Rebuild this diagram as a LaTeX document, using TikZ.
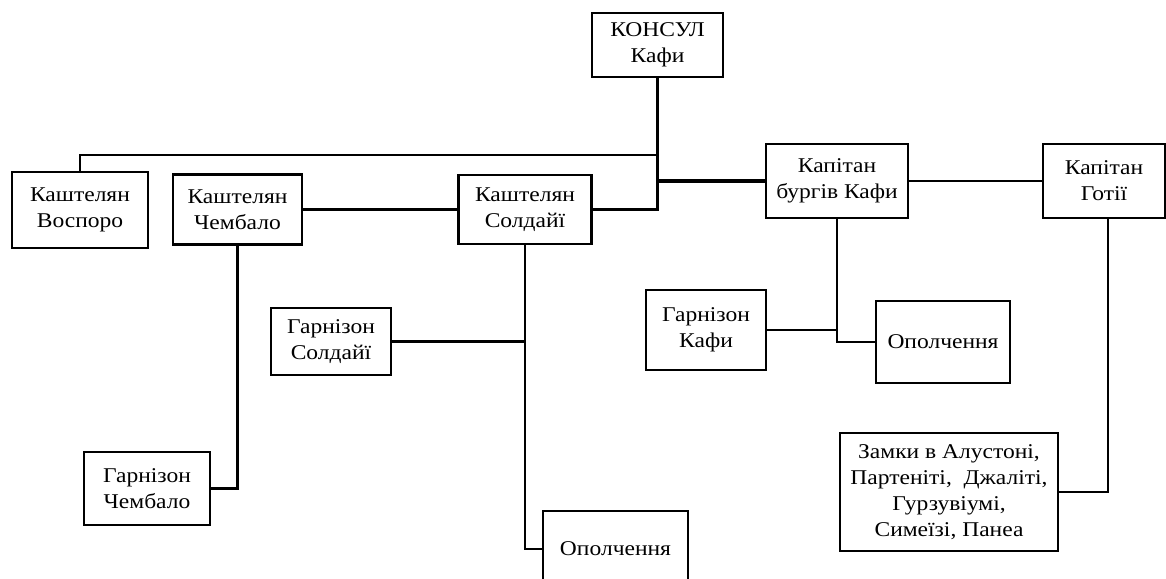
\documentclass[tikz,border=0pt]{standalone}
\usepackage{fontspec}
\setmainfont{Liberation Serif}[FakeStretch=1.12]
\usetikzlibrary{calc}

\begin{document}
\begin{tikzpicture}[x=1pt,y=-1pt,
  box/.style={draw,line width=2.9pt,align=center,inner sep=0pt,font=\fontsize{21}{26}\selectfont},
  link/.style={line width=2.6pt},
  mainlink/.style={line width=4.8pt}]

\useasboundingbox (0,0) rectangle (1166,578);

\node[box,minimum width=131pt,minimum height=64pt] (konsul) at (657.5,45) {КОНСУЛ\\Кафи};
\node[box,minimum width=136pt,minimum height=76pt] (vospor) at (80,210) {Каштелян\\Воспоро};
\node[box,minimum width=129pt,minimum height=70pt] (chemb) at (237.5,209.5) {Каштелян\\Чембало};
\node[box,minimum width=133pt,minimum height=69pt] (sold) at (525,209.5) {Каштелян\\Солдайї};
\node[box,minimum width=142pt,minimum height=74pt] (burg) at (837,181) {Капітан\\бургів Кафи};
\node[box,minimum width=122pt,minimum height=74pt] (goth) at (1104,181) {Капітан\\Готії};
\node[box,minimum width=120pt,minimum height=67pt] (garsold) at (331,341.5) {Гарнізон\\Солдайї};
\node[box,minimum width=120pt,minimum height=80pt] (garkafa) at (706,330) {Гарнізон\\Кафи};
\node[box,minimum width=134pt,minimum height=82pt] (opol1) at (943,342) {Ополчення};
\node[box,minimum width=126pt,minimum height=73pt] (garchemb) at (147,488.5) {Гарнізон\\Чембало};
\node[box,minimum width=145pt,minimum height=76pt] (opol2) at (615.5,549) {Ополчення};
\node[box,minimum width=218pt,minimum height=118pt] (zamky) at (949,492) {Замки в Алустоні,\\Партеніті,\ \ Джаліті,\\Гурзувіумі,\\Симеїзі, Панеа};

\coordinate (bus) at (konsul.south |- 0,155);
\coordinate (fork) at (konsul.south |- burg.west);

\draw[link] (konsul.south) |- (sold.east);
\draw[link] (bus) -| (vospor.north);
\draw[mainlink] (fork) -- (burg.west);
\draw[link] (chemb.east) -- (sold.west);
\draw[link] (burg.east) -- (goth.west);
\draw[link] (chemb.south) |- (garchemb.east);
\draw[link] (sold.south) |- (opol2.west);
\draw[link] (garsold.east) -- (sold.south |- garsold.east);
\draw[link] (burg.south) |- (opol1.west);
\draw[link] (garkafa.east) -- (burg.south |- garkafa.east);
\draw[link] ([xshift=4pt]goth.south) |- (zamky.east);

\end{tikzpicture}
\end{document}
